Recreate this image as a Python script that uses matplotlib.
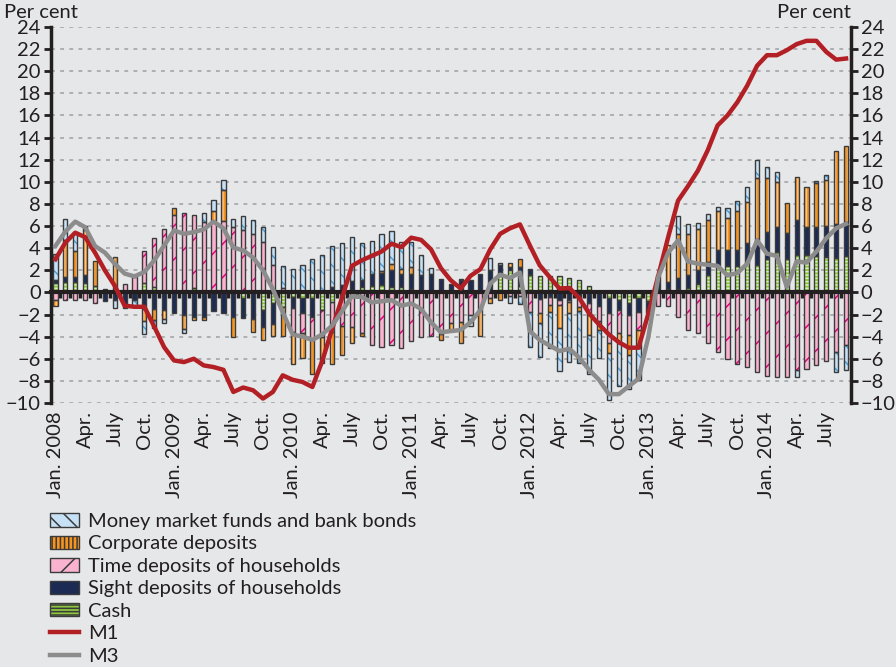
import numpy as np
import matplotlib
matplotlib.use('Agg')
import matplotlib.pyplot as plt
from matplotlib.patches import Patch
from matplotlib.lines import Line2D

# ---------------- data (Jan 2008 .. Sep 2014, monthly) ----------------
tick_labels = ['Jan. 2008', 'Apr.', 'July', 'Oct.',
               'Jan. 2009', 'Apr.', 'July', 'Oct.',
               'Jan. 2010', 'Apr.', 'July', 'Oct.',
               'Jan. 2011', 'Apr.', 'July', 'Oct.',
               'Jan. 2012', 'Apr.', 'July', 'Oct.',
               'Jan. 2013', 'Apr.', 'July', 'Oct.',
               'Jan. 2014', 'Apr.', 'July']

cash = [0.85, 0.9, 0.9, 0.85, 0.6, 0.3, 0, 0, 0, 0.85,
        0.5, 0, 0, 0, 0.4, 0, 0, 0, 0, -0.5,
        0, -1.6, -1.0, -1.3, -0.4, -0.5, -0.5, -1.6, -0.9, 0,
        0.25, 0.5, 0.55, 0.65, 0.5, 0.5, 0.35, 0.25, 0, 0,
        0, 0, 0, 0.25, 0, 1.7, 2.0, 0.6, 1.55, 1.45,
        1.45, 1.45, 1.3, 1.15, 0.55, 0, -0.55, -0.7, -0.95, -0.55,
        -0.8, 0, 0.3, 0.35, 0.4, 0.8, 1.55, 2.35, 2.35, 2.35,
        2.75, 2.5, 3.05, 3.65, 3.05, 3.35, 3.35, 3.25, 3.2, 3.15,
        3.3]

sight = [0.3, 0.5, 0.45, 0.7, 0, -0.8, -0.65, -1.4, -0.7, -1.5,
         -1.5, -1.6, -1.9, -2.0, -2.2, -2.2, -1.7, -1.9, -2.2, -1.8,
         -2.4, -1.5, -1.9, 0, -1.0, -1.4, -1.7, 0, 0.5, 0.7,
         0.8, 0.65, 1.1, 1.1, 1.5, 1.2, 1.35, 1.3, 1.7, 1.25,
         0.8, 1.1, 1.1, 1.4, 2.0, 0.8, 0.3, 1.7, 0.6, -0.6,
         -0.4, -0.7, -0.65, -0.5, -1.0, -1.2, -1.35, -0.9, -1.1, -1.2,
         -0.8, 1.55, 0.6, 0.95, 1.15, 1.2, 1.2, 1.5, 1.45, 1.45,
         1.7, 2.35, 2.4, 2.3, 2.3, 3.2, 2.55, 2.65, 2.8, 3.0,
         3.1]

time_dep = [-0.7, -0.65, -0.65, -0.65, -0.95, 0, 0, 0.8, 1.4, 2.9,
            4.4, 5.75, 7.0, 7.2, 6.6, 6.4, 6.5, 6.5, 5.9, 5.6,
            5.25, 4.55, 2.45, 0.4, -2.2, -1.8, -2.0, -2.4, -2.7, -3.0,
            -3.15, -3.7, -4.8, -4.9, -4.8, -5.0, -4.4, -4.05, -3.95, -3.75,
            -2.8, -2.7, -2.0, -1.6, -0.55, 0, -0.35, -0.35, -1.8, -1.3,
            -0.75, -0.45, -0.2, -0.85, -1.05, -1.35, -2.7, -2.1, -1.8, -1.65,
            -0.3, -1.25, -1.25, -2.25, -3.4, -3.7, -4.6, -5.35, -6.0, -6.5,
            -6.75, -7.2, -7.6, -7.65, -7.65, -7.05, -6.9, -6.6, -6.2, -5.4,
            -4.8]

corporate = [-0.5, 3.3, 2.4, 4.05, 2.2, 0, 3.2, 0, 0, -1.05,
             -1.0, -0.8, 0.6, -1.3, -0.25, -0.25, 0.9, 2.8, -1.8, 0,
             -1.2, -1.2, -1.0, -2.6, -2.85, -2.2, -3.2, -2.4, -2.85, -2.7,
             -1.45, -0.25, 0, 0.2, 0.55, 0.4, 0.6, 0, 0, -0.55,
             -0.6, -1.9, 0, -2.35, -0.45, -0.7, 0.35, 0.75, 0, -0.85,
             -0.6, -2.1, -1.05, -0.3, -1.8, -0.85, -0.9, -0.9, -1.8, -1.65,
             0, 0, 3.4, 4.0, 3.7, 3.75, 3.8, 3.5, 2.95, 3.55,
             3.7, 5.5, 4.9, 4.0, 2.7, 3.85, 3.6, 4.0, 4.2, 6.65,
             6.85]

mmf_bonds = [2.3, 1.9, 1.75, 0.4, 0, 0, -0.8, 0, -0.6, -1.2,
             -0.7, -0.4, 0, -0.35, 0, 0.8, 1.0, 0.85, 0.75, 1.35,
             1.3, 1.35, 1.7, 2.0, 2.15, 2.5, 3.0, 3.35, 3.7, 3.8,
             4.0, 3.3, 3.0, 3.3, 3.0, 2.5, 2.25, 1.8, 0.55, 0,
             0, 0.15, -1.0, 0, 1.15, 0.2, -0.65, -0.7, -3.1, -3.1,
             -3.3, -3.9, -4.35, -4.75, -3.55, -2.5, -4.2, -3.9, -3.1, -2.85,
             0, 0, 0, 1.6, 0.95, 0.5, 0.55, 0.4, 0.9, 0.95,
             1.4, 1.6, 1.0, 0.9, 0, -0.6, 0, 0.2, 0.45, -1.8,
             -2.2]

m1 = [3.0, 4.5, 5.4, 5.0, 3.6, 2.0, 0.6, -1.2, -1.3, -1.3,
      -3.1, -4.95, -6.15, -6.3, -6.0, -6.6, -6.75, -7.0, -9.0, -8.6,
      -8.85, -9.6, -9.0, -7.5, -7.9, -8.1, -8.55, -6.2, -3.3, -0.5,
      2.4, 2.9, 3.3, 3.7, 4.4, 4.1, 4.95, 4.75, 3.9, 2.2,
      1.1, 0.35, 1.5, 2.1, 3.9, 5.3, 5.8, 6.15, 4.25, 2.45,
      1.4, 0.35, 0.4, -0.5, -1.9, -2.9, -3.8, -4.5, -5.0, -5.0,
      -1.9, 1.5, 5.0, 8.3, 9.6, 11.0, 12.85, 15.1, 16.0, 17.2,
      18.7, 20.5, 21.45, 21.45, 21.9, 22.45, 22.75, 22.75, 21.75, 21.05,
      21.15]

m3 = [4.2, 5.5, 6.4, 5.9, 4.2, 3.6, 2.6, 1.7, 1.45, 1.85,
      2.9, 4.25, 5.6, 5.3, 5.45, 5.7, 6.4, 5.8, 4.05, 3.8,
      3.15, 2.0, 0.3, -1.8, -3.8, -4.0, -4.3, -3.8, -3.0, -1.7,
      -0.35, -0.4, -0.9, -0.8, -0.7, -1.2, -1.0, -1.5, -2.7, -3.6,
      -3.5, -3.4, -2.7, -1.6, 0.8, 1.6, 1.3, 1.8, -3.5, -4.3,
      -4.8, -5.3, -5.1, -5.9, -7.0, -7.9, -9.2, -9.2, -8.5, -7.8,
      -4.0, 1.4, 3.6, 4.7, 2.8, 2.6, 2.5, 2.4, 1.55, 1.75,
      2.6, 4.7, 3.5, 3.3, 0.5, 2.8, 2.7, 3.7, 4.9, 5.8,
      6.2]

# ---------------- styles ----------------
BG = '#e6e7e8'
DARK = '#231f20'
EDGE = '#3b3b3b'
GRID = '#9d9fa2'

plt.rcParams['font.family'] = ['Lato', 'DejaVu Sans']
plt.rcParams['hatch.linewidth'] = 1.1
FS = 14.5

# stacking order (from zero outward), with face colour, hatch, hatch colour
series = [
    ('Cash', cash, '#8dc63f', '-----', '#d6eebd'),
    ('Sight deposits of households', sight, '#1c2b54', None, '#1c2b54'),
    ('Time deposits of households', time_dep, '#f9b3cf', '/', '#e6007e'),
    ('Corporate deposits', corporate, '#f7941d', '||||', '#fcc58a'),
    ('Money market funds and bank bonds', mmf_bonds, '#c6e0f5', '\\\\', '#4f9fd9'),
]

n = len(m1)
x = np.arange(n)

fig = plt.figure(figsize=(8.96, 6.67), dpi=100, facecolor=BG)
ax = fig.add_axes([50.5 / 896, 1 - 403 / 667, 800.5 / 896, 376 / 667])
ax.set_facecolor(BG)

W = 0.42
pos_base = np.zeros(n)
neg_base = np.zeros(n)
for name, vals, fc, hatch, hc in series:
    v = np.asarray(vals, dtype=float)
    bottom = np.where(v >= 0, pos_base, neg_base)
    m = v != 0
    ax.bar(x[m], v[m], width=W, bottom=bottom[m], color=fc, hatch=hatch,
           edgecolor=hc, linewidth=0, zorder=3)
    ax.bar(x[m], v[m], width=W, bottom=bottom[m], facecolor='none',
           edgecolor=EDGE, linewidth=1.0, zorder=4)
    pos_base += np.where(v > 0, v, 0)
    neg_base += np.where(v < 0, v, 0)

ax.plot(x, m1, color='#b22025', lw=3.2, zorder=7, solid_joinstyle='round')
ax.plot(x, m3, color='#8c8c8c', lw=3.2, zorder=8, solid_joinstyle='round')

# axes
ax.set_xlim(-0.5, n - 0.5)
ax.set_ylim(-10, 24)
yt = np.arange(-10, 25, 2)
ax.set_yticks(yt)
ax.yaxis.grid(True, color=GRID, linestyle=(0, (2.5, 3.5)), linewidth=1.1)
ax.set_axisbelow(True)
ax.tick_params(axis='y', which='both', direction='out', length=5, width=2,
               color=DARK, left=True, right=True, labelleft=True,
               labelright=True, labelsize=FS, pad=2, labelcolor=DARK)

for s in ['left', 'right']:
    ax.spines[s].set_linewidth(2.5)
    ax.spines[s].set_color(DARK)
ax.spines['top'].set_visible(False)
ax.spines['bottom'].set_position(('data', 0))
ax.spines['bottom'].set_linewidth(3)
ax.spines['bottom'].set_color(DARK)
ax.spines['bottom'].set_zorder(5)

ax.set_xticks(x[:-1] + 0.5)
ax.tick_params(axis='x', direction='out', length=4.5, width=2.5, color=DARK,
               labelbottom=False)

sec = ax.secondary_xaxis(0.0)
sec.set_xticks(x[::3][:len(tick_labels)])
sec.set_xticklabels(tick_labels, rotation=90, fontsize=FS, color=DARK,
                    ha='center', va='top')
sec.tick_params(length=0, pad=6)
sec.spines['bottom'].set_visible(False)

fig.text(4 / 896, 1 - 13 / 667, 'Per cent', ha='left', va='center',
         fontsize=FS, color=DARK)
fig.text(851 / 896, 1 - 13 / 667, 'Per cent', ha='right', va='center',
         fontsize=FS, color=DARK)

# legend
handles = []
labels = []
for name, vals, fc, hatch, hc in series[::-1]:
    handles.append(Patch(facecolor=fc, hatch=hatch, edgecolor=EDGE, linewidth=1.0))
    labels.append(name)
handles.append(Line2D([], [], color='#b22025', lw=3.2))
labels.append('M1')
handles.append(Line2D([], [], color='#8c8c8c', lw=3.2))
labels.append('M3')
leg = fig.legend(handles, labels, loc='upper left',
                 bbox_to_anchor=(50 / 896, 1 - 513 / 667), frameon=False,
                 fontsize=FS, labelspacing=0.27, handlelength=1.45,
                 handleheight=0.65, handletextpad=0.45, borderaxespad=0,
                 borderpad=0)
for t in leg.get_texts():
    t.set_color(DARK)

fig.savefig('out.png', dpi=100, facecolor=BG)
